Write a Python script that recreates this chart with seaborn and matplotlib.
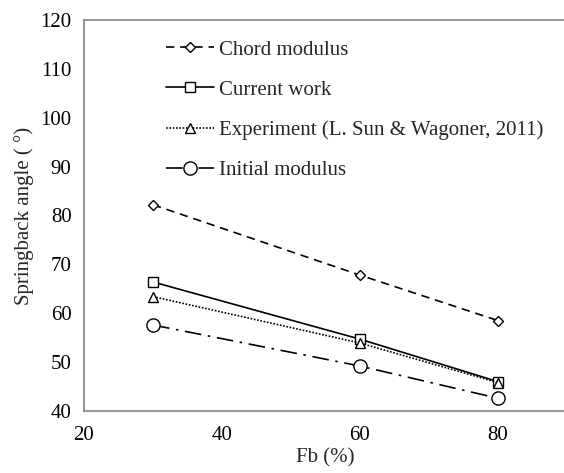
import matplotlib
matplotlib.use("Agg")
import matplotlib.pyplot as plt
import seaborn as sns
import pandas as pd

fb = [30, 60, 80]
chord_modulus = [82.2, 67.8, 58.5]
current_work = [66.4, 54.7, 46.0]
experiment = [63.4, 53.9, 45.8]
initial_modulus = [57.6, 49.2, 42.6]

series_names = [
    "Chord modulus",
    "Current work",
    "Experiment (L. Sun & Wagoner, 2011)",
    "Initial modulus",
]
series_values = [chord_modulus, current_work, experiment, initial_modulus]

sns.set_theme(style="white")
plt.rcParams["font.family"] = ["Liberation Serif", "DejaVu Serif"]

rows = []
for name, vals in zip(series_names, series_values):
    for x, y in zip(fb, vals):
        rows.append({"Fb": x, "angle": y, "series": name})
df = pd.DataFrame(rows)

styles = {
    "Chord modulus": dict(ls=(0, (5, 3.5)), marker="D", ms=4.8),
    "Current work": dict(ls="-", marker="s", ms=6.5),
    "Experiment (L. Sun & Wagoner, 2011)": dict(ls=(0, (1, 1)), marker="^", ms=6.5),
    "Initial modulus": dict(ls=(0, (10, 4, 1.5, 4)), marker="o", ms=9.5),
}

fig = plt.figure(figsize=(5.64, 4.73), dpi=100)
ax = fig.add_axes([84 / 564, (473 - 411) / 473, (567 - 84) / 564, (411 - 20) / 473])

handles = []
for name in series_names:
    st = styles[name]
    sub = df[df["series"] == name]
    sns.lineplot(data=sub, x="Fb", y="angle", ax=ax, color="black", lw=1.2,
                 linestyle=st["ls"], marker=st["marker"], markersize=st["ms"],
                 markerfacecolor="white", markeredgecolor="black",
                 markeredgewidth=1.0, legend=False, label=name)
    handles.append(ax.lines[-1])

ax.set_xlim(20, 90)
ax.set_ylim(40, 120)
ax.set_xticks([20, 40, 60, 80])
ax.set_yticks(range(40, 121, 10))
ax.tick_params(axis="x", labelsize=15, length=0, pad=11, colors="black")
ax.tick_params(axis="y", labelsize=15, length=0, pad=9, colors="black")
ax.set_xlabel("Fb (%)", fontsize=15, labelpad=2)
ax.set_ylabel("Springback angle ( °)", fontsize=15, labelpad=4.5)

for side in ["left", "bottom", "top"]:
    ax.spines[side].set_color("#999999")
    ax.spines[side].set_linewidth(1.5)
ax.spines["right"].set_visible(False)

ax.legend(handles=handles, labels=series_names, loc="upper left",
          bbox_to_anchor=(0.153, 0.97), frameon=False, fontsize=15,
          handlelength=2.3, handletextpad=0.25, labelspacing=0.98,
          borderaxespad=0)

fig.savefig("out.png", dpi=100)
